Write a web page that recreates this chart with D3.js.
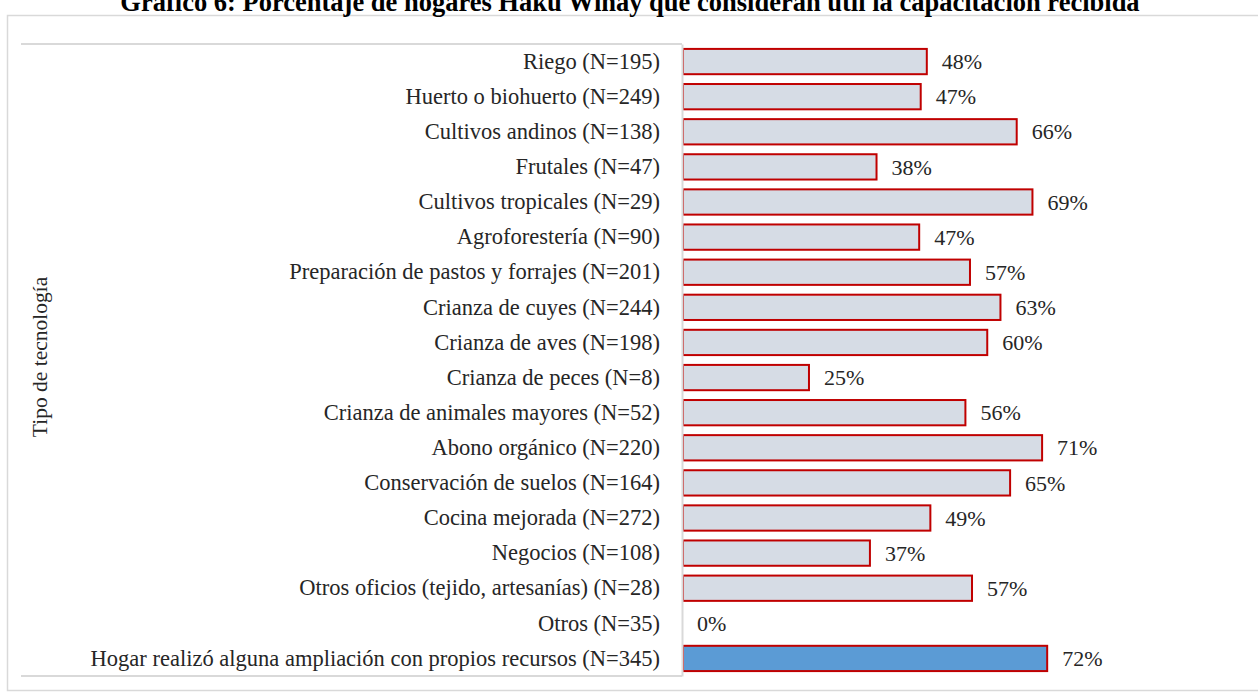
<!DOCTYPE html>
<html>
<head>
<meta charset="utf-8">
<script src="https://cdn.jsdelivr.net/npm/d3@7"></script>
<style>
  html, body { margin: 0; padding: 0; background: #ffffff; }
  svg { display: block; }
</style>
</head>
<body>
<div id="chart"></div>
<script>
const titleText = "Gráfico 6: Porcentaje de hogares Haku Wiñay que consideran útil la capacitación recibida";
const axisTitle = "Tipo de tecnología";
const categories = [
  "Riego (N=195)",
  "Huerto o biohuerto (N=249)",
  "Cultivos andinos (N=138)",
  "Frutales (N=47)",
  "Cultivos tropicales (N=29)",
  "Agroforestería (N=90)",
  "Preparación de pastos y forrajes (N=201)",
  "Crianza de cuyes (N=244)",
  "Crianza de aves (N=198)",
  "Crianza de peces (N=8)",
  "Crianza de animales mayores (N=52)",
  "Abono orgánico (N=220)",
  "Conservación de suelos (N=164)",
  "Cocina mejorada (N=272)",
  "Negocios (N=108)",
  "Otros oficios (tejido, artesanías) (N=28)",
  "Otros (N=35)",
  "Hogar realizó alguna ampliación con propios recursos (N=345)"
];
const values = [48.2, 47.0, 65.9, 38.3, 69.0, 46.7, 56.7, 62.7, 60.1, 25.0, 55.8, 70.9, 64.6, 48.9, 37.0, 57.1, 0, 71.9];
const highlight = [false, false, false, false, false, false, false, false, false, false, false, false, false, false, false, false, false, true];

const W = 1258, H = 696;
const svg = d3.select("#chart").append("svg").attr("width", W).attr("height", H);
const serif = "'Liberation Serif', 'Times New Roman', serif";

// outer frame
svg.append("rect")
  .attr("x", 7.5).attr("y", 15.5).attr("width", 1300).attr("height", 675)
  .attr("fill", "#ffffff").attr("stroke", "#d9d9d9").attr("stroke-width", 1.5);

// title (clipped at top of page, as in the source)
svg.append("text")
  .attr("x", 630).attr("y", 11)
  .attr("text-anchor", "middle")
  .attr("font-family", serif).attr("font-weight", "bold").attr("font-size", 26.5)
  .attr("fill", "#000")
  .text(titleText);

const x = d3.scaleLinear().domain([0, 100]).range([682, 1189.9]);
const y = d3.scaleBand().domain(categories).range([44, 676]).paddingInner(0.28).paddingOuter(0.14);

// label box top and bottom lines
svg.append("line").attr("x1", 21).attr("x2", 682).attr("y1", 44).attr("y2", 44)
  .attr("stroke", "#d9d9d9").attr("stroke-width", 2);
svg.append("line").attr("x1", 21).attr("x2", 682).attr("y1", 676).attr("y2", 676)
  .attr("stroke", "#d9d9d9").attr("stroke-width", 2);

// bars
const data = categories.map((c, i) => ({ c, v: values[i], h: highlight[i] }));
svg.append("g").selectAll("rect").data(data.filter(d => d.v > 0)).join("rect")
  .attr("x", x(0) + 1)
  .attr("y", d => y(d.c))
  .attr("width", d => x(d.v) - x(0) - 1)
  .attr("height", y.bandwidth())
  .attr("fill", d => d.h ? "#5b9bd5" : "#d6dce5")
  .attr("stroke", "#c00000").attr("stroke-width", 2);

// value labels
svg.append("g").selectAll("text").data(data).join("text")
  .attr("x", d => x(d.v) + 15)
  .attr("y", d => y(d.c) + y.bandwidth() / 2)
  .attr("dy", "0.35em")
  .attr("font-family", serif).attr("font-size", 22)
  .attr("fill", "#262626")
  .text(d => Math.round(d.v) + "%");

// category axis
const ax = svg.append("g").attr("transform", "translate(682,0)")
  .call(d3.axisLeft(y).tickSize(0).tickSizeOuter(0).tickPadding(22));
ax.select(".domain").attr("stroke", "#d9d9d9").attr("stroke-width", 2);
ax.selectAll("text")
  .attr("font-family", serif).attr("font-size", 22.5).attr("fill", "#262626");

// axis title
svg.append("text")
  .attr("transform", "translate(47,357) rotate(-90)")
  .attr("text-anchor", "middle")
  .attr("font-family", serif).attr("font-size", 21.5).attr("fill", "#262626")
  .text(axisTitle);
</script>
</body>
</html>
